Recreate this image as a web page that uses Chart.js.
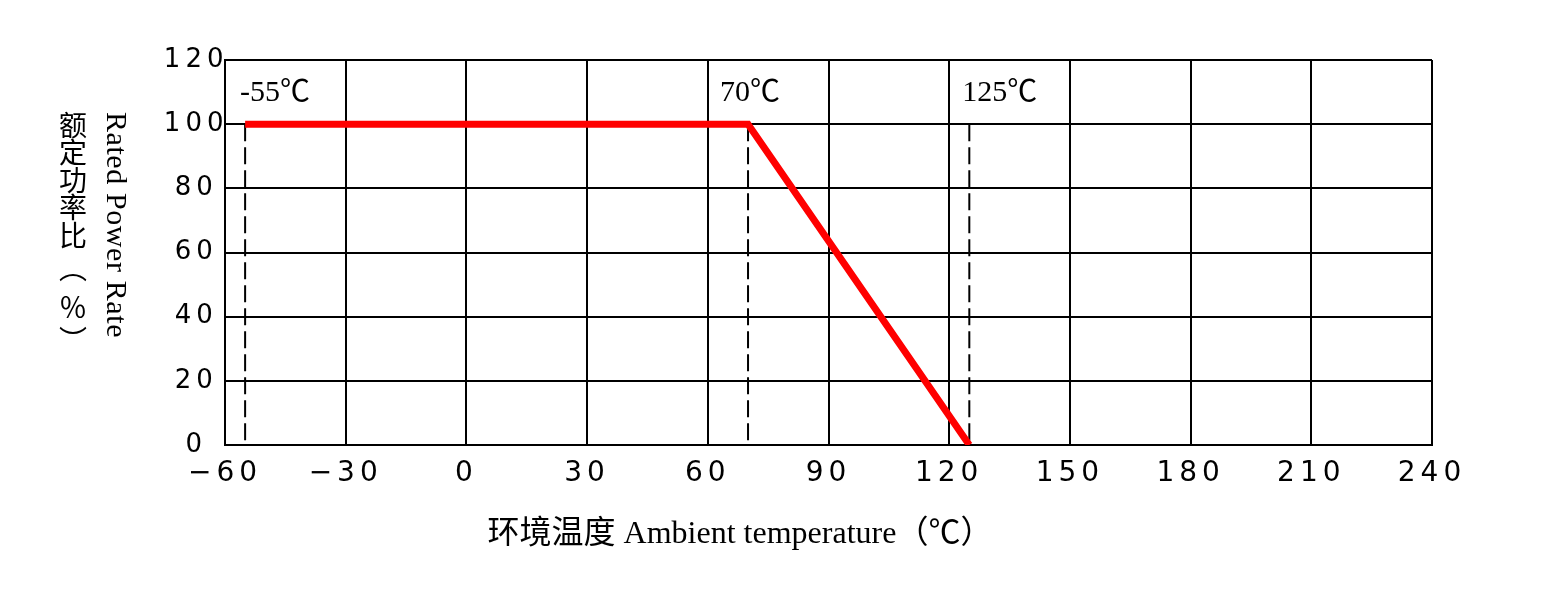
<!DOCTYPE html>
<html>
<head>
<meta charset="utf-8">
<script src="https://cdn.jsdelivr.net/npm/chart.js@4/dist/chart.umd.min.js"></script>
<style>
  html, body { margin: 0; padding: 0; background: #fff; }
  #wrap { width: 1553px; height: 597px; }
</style>
</head>
<body>
<div id="wrap"><canvas id="derating" width="1553" height="597"></canvas></div>
<script>
// -------------------------------
// DATA
// -------------------------------
const curveTemps = [-55, 70, 125];
const curvePower = [100, 100, 0];

// dashed guide lines + their labels
const markTemps = [-55, 70, 125];
const markTop = 100;

const xTitle = "环境温度 Ambient temperature（℃）";
const yTitleCn = ["额", "定", "功", "率", "比", "︵", "％", "︶"];
const yTitleEn = "Rated Power Rate";

// -------------------------------
// DATASETS
// -------------------------------
const guideSets = markTemps.map((t) => ({
  data: [{ x: t, y: markTop }, { x: t, y: 0 }],
  borderColor: "#000",
  borderWidth: 2,
  borderDash: [17, 6],
  pointRadius: 0,
  order: 2,
}));

const curveSet = {
  data: curveTemps.map((t, i) => ({ x: t, y: curvePower[i] })),
  borderColor: "#ff0000",
  borderWidth: 7,
  borderJoinStyle: "miter",
  pointRadius: 0,
  order: 1,
};

// -------------------------------
// PLUGIN: spacing, titles, marks
// -------------------------------
const markNudge = [-5, -28, -7];
const cnRows = [125, 152.5, 180, 207.5, 235, 268, 307, 340];

const decor = {
  id: "decor",
  beforeDraw(chart) {
    const ctx = chart.ctx;
    ctx.save();
    ctx.fillStyle = "#fff";
    ctx.fillRect(0, 0, chart.width, chart.height);
    ctx.restore();
    ctx.letterSpacing = "5px"; // wide plotter-style tick labels
  },
  beforeDatasetsDraw(chart) {
    chart.ctx.letterSpacing = "0px";
  },
  afterDraw(chart) {
    const ctx = chart.ctx;
    const xs = chart.scales.x;
    ctx.save();
    ctx.letterSpacing = "0px";
    ctx.fillStyle = "#000";

    // labels above the dashed lines
    ctx.font = "30px 'Liberation Serif', 'Noto Sans CJK SC'";
    ctx.textAlign = "left";
    ctx.textBaseline = "alphabetic";
    markTemps.forEach((t, i) => {
      ctx.fillText(t + "℃", xs.getPixelForValue(t) + markNudge[i], 101);
    });

    // x title
    ctx.font = "32px 'Liberation Serif', 'Noto Sans CJK SC'";
    ctx.textAlign = "center";
    ctx.textBaseline = "middle";
    ctx.fillText(xTitle, 740, 535);

    // y title, chinese column (upright)
    ctx.font = "28px 'Noto Sans CJK SC'";
    yTitleCn.forEach((ch, i) => {
      ctx.fillText(ch, 73, cnRows[i]);
    });

    // y title, english column (rotated clockwise)
    ctx.translate(115, 225);
    ctx.rotate(Math.PI / 2);
    ctx.font = "30px 'Liberation Serif'";
    ctx.letterSpacing = "0.6px";
    ctx.fillText(yTitleEn, 0, 0);
    ctx.restore();
  },
};

// -------------------------------
// CHART
// -------------------------------
const ctx = document.getElementById("derating").getContext("2d");

const chart = new Chart(ctx, {
  type: "line",
  data: { datasets: [...guideSets, curveSet] },
  options: {
    responsive: false,
    animation: false,
    layout: { padding: { top: 60, right: 121, bottom: 0, left: 0 } },
    plugins: {
      legend: { display: false },
      tooltip: { enabled: false },
    },
    scales: {
      x: {
        type: "linear",
        min: -60,
        max: 240,
        afterFit: (s) => { s.height = 152; },
        ticks: {
          stepSize: 30,
          color: "#000",
          padding: 12,
          font: { family: "'DejaVu Sans'", size: 28 },
          maxRotation: 0,
          callback: (v) => (v < 0 ? "\u2212" + Math.abs(v) : String(v)),
        },
        grid: { color: "#000", lineWidth: 2, drawTicks: false },
        border: { color: "#000", width: 2 },
      },
      y: {
        min: 0,
        max: 120,
        afterFit: (s) => { s.width = 225; },
        ticks: {
          stepSize: 20,
          color: "#000",
          padding: 4,
          crossAlign: "center",
          font: { family: "'DejaVu Sans'", size: 26 },
        },
        grid: { color: "#000", lineWidth: 2, drawTicks: false },
        border: { color: "#000", width: 2 },
      },
    },
  },
  plugins: [decor],
});
</script>
</body>
</html>
